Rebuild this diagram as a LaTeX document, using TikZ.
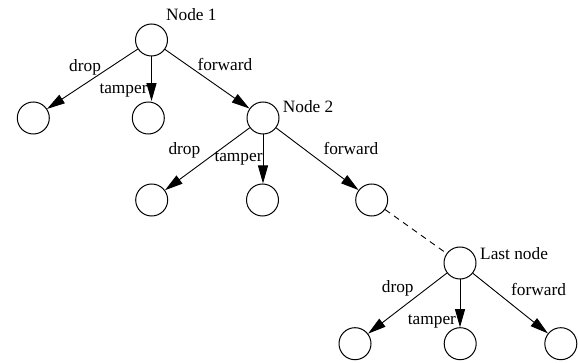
\documentclass[tikz,border=0pt]{standalone}
\usepackage{fontspec}
\setmainfont{Liberation Serif}
\usetikzlibrary{arrows.meta}
\begin{document}
\begin{tikzpicture}[x=1pt,y=-1pt,
  state/.style={circle,draw,line width=1pt,minimum size=32pt,inner sep=0pt},
  arr/.style={line width=0.9pt,-{Triangle[length=18pt,width=10pt]}},
  lbl/.style={inner sep=0pt,anchor=base west,font=\fontsize{17.3}{20}\selectfont},
  dashedlink/.style={line width=0.9pt,dash pattern=on 6pt off 5pt}]
\useasboundingbox (0,0) rectangle (578,363);

% nodes of the tree
\node[state] (n1) at (151.5,40) {};
\node[state] (a1) at (33.3,118) {};
\node[state] (a2) at (148.3,118) {};
\node[state] (n2) at (263,118) {};
\node[state] (b1) at (151.7,200) {};
\node[state] (b2) at (262.5,200) {};
\node[state] (b3) at (371.7,200) {};
\node[state] (ln) at (460,263) {};
\node[state] (c1) at (355,343.7) {};
\node[state] (c2) at (460.2,343.7) {};
\node[state] (c3) at (560.8,343.7) {};

% node names
\node[lbl] (t1) at (166,20.7) {Node 1};
\node[lbl] (t2) at (282.7,113) {Node 2};
\node[lbl] (t3) at (480,260) {Last node};

% branches (the middle ones drop straight down)
\draw[arr] (n1) -- (a1);
\draw[arr] (n1.south) -- ([yshift=0.4pt]n1.south |- a2.north);
\draw[arr] (n1) -- (n2);
\draw[arr] (n2) -- (b1);
\draw[arr] (n2.south) -- (n2.south |- b2.north);
\draw[arr] (n2) -- (b3);
\draw[dashedlink] (b3) -- (ln);
\draw[arr] (ln) -- (c1);
\draw[arr] (ln.south) -- (ln.south |- c2.north);
\draw[arr] (ln) -- (c3);

% branch labels
\node[lbl] (l1) at (69,71.5) {drop};
\node[lbl] (l2) at (99.3,94) {tamper};
\node[lbl] (l3) at (197.3,70.5) {forward};
\node[lbl] (l4) at (168.3,154.3) {drop};
\node[lbl] (l5) at (214.3,161.5) {tamper};
\node[lbl] (l6) at (323.3,154.5) {forward};
\node[lbl] (l7) at (381.7,292) {drop};
\node[lbl] (l8) at (407.7,324.5) {tamper};
\node[lbl] (l9) at (511,295) {forward};
\end{tikzpicture}
\end{document}
